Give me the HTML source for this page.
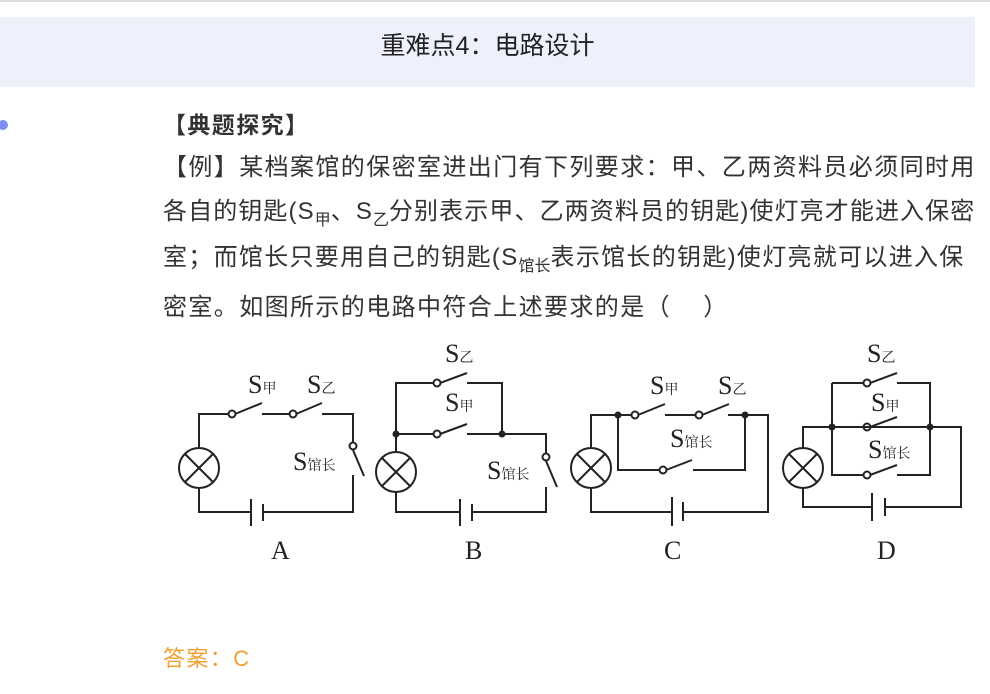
<!DOCTYPE html>
<html><head><meta charset="utf-8"><style>
body{margin:0;width:990px;height:694px;background:#fff;position:relative;overflow:hidden;font-family:"Liberation Sans","Noto Sans CJK SC",sans-serif;color:#333}
.hd{position:absolute;left:0;top:17px;width:975px;height:70px;background:#eef0fc}
.t{position:absolute;left:0;width:975px;top:26px;text-align:center;font-size:25px;color:#222}
.l{position:absolute;left:163px;font-size:24px;letter-spacing:1.4px;white-space:nowrap;line-height:30px}
sub{font-size:16px;vertical-align:-6px;letter-spacing:0}
svg{position:absolute;left:0;top:0}
</style></head><body>
<div style="position:absolute;left:0;top:0;width:990px;height:2px;background:#ddd"></div>
<div class="hd"></div>
<div class="t">重难点4：电路设计</div>
<div style="position:absolute;left:-2px;top:120px;width:10px;height:10px;border-radius:50%;background:#7b8ff0"></div>
<div class="l" style="top:110px;font-weight:bold;font-size:23px">【典题探究】</div>
<div class="l" style="top:153px">【例】某档案馆的保密室进出门有下列要求：甲、乙两资料员必须同时用</div>
<div class="l" style="top:197px;letter-spacing:1.1px">各自的钥匙(S<sub>甲</sub>、S<sub>乙</sub>分别表示甲、乙两资料员的钥匙)使灯亮才能进入保密</div>
<div class="l" style="top:243px;letter-spacing:1.3px">室；而馆长只要用自己的钥匙(S<sub>馆长</sub>表示馆长的钥匙)使灯亮就可以进入保</div>
<div class="l" style="top:293px">密室。如图所示的电路中符合上述要求的是（&nbsp;&nbsp;&nbsp;&nbsp;）</div>
<div class="l" style="top:644px;color:#f0a030;font-size:22px">答案：C</div>
<svg width="990" height="694" font-family="Liberation Serif,Noto Serif CJK SC,serif" fill="none" stroke="#222" stroke-width="2">
<g id="A">
<path d="M199 448V414H229M235 414L262 403M262 414H290M296 414L322 403M322 414H353V442M353 450L364 476M353 475V512H263M251 512H199V488"/>
<circle cx="232" cy="414" r="3.5"/><circle cx="293" cy="414" r="3.5"/><circle cx="353" cy="446" r="3.5"/>
<circle cx="199" cy="468" r="20"/><path d="M185 454L213 482M213 454L185 482"/>
<path d="M251 499V526M263 504V521"/>
</g>
<g id="B">
<path d="M396 452V383H433M440 383L467 373M467 383H502V434M396 434H433M440 434L467 424M467 434H546V453M546 461L557 487M546 487V512H472M460 512H396V492"/>
<circle cx="437" cy="383" r="3.5"/><circle cx="437" cy="434" r="3.5"/><circle cx="546" cy="457" r="3.5"/>
<circle cx="396" cy="472" r="20"/><path d="M382 458L410 486M410 458L382 486"/>
<path d="M460 499V526M472 504V521"/>
</g>
<g id="C">
<path d="M591 448V415H631M638 415L665 404M665 415H695M702 415L729 404M728 415H768V512H683M672 512H591V488M618 415V470H659M666 470L692 460M693 470H745V415"/>
<circle cx="635" cy="415" r="3.5"/><circle cx="699" cy="415" r="3.5"/><circle cx="663" cy="470" r="3.5"/>
<circle cx="591" cy="468" r="20"/><path d="M577 454L605 482M605 454L577 482"/>
<path d="M672 497V526M683 502V521"/>
</g>
<g id="D">
<path d="M803 448V427H961V507H885M872 507H803V488M832 383V475H863M870 475L897 465M897 475H930V383H897M897 373L870 383M863 383H832M832 427H863M870 427L897 417"/>
<circle cx="867" cy="383" r="3.5"/><circle cx="867" cy="427" r="3.5"/><circle cx="867" cy="475" r="3.5"/>
<circle cx="803" cy="468" r="20"/><path d="M789 454L817 482M817 454L789 482"/>
<path d="M872 493V521M885 498V516"/>
</g>
<g fill="#222" stroke="none">
<circle cx="396" cy="434" r="3.5"/><circle cx="502" cy="434" r="3.5"/>
<circle cx="618" cy="415" r="3.5"/><circle cx="745" cy="415" r="3.5"/>
<circle cx="832" cy="427" r="3.5"/><circle cx="930" cy="427" r="3.5"/>
<g font-size="26">
<text x="248" y="393">S<tspan font-size="14">甲</tspan></text>
<text x="307" y="393">S<tspan font-size="14">乙</tspan></text>
<text x="293" y="470">S<tspan font-size="14">馆长</tspan></text>
<text x="445" y="362">S<tspan font-size="14">乙</tspan></text>
<text x="445" y="411">S<tspan font-size="14">甲</tspan></text>
<text x="487" y="479">S<tspan font-size="14">馆长</tspan></text>
<text x="650" y="394">S<tspan font-size="14">甲</tspan></text>
<text x="718" y="394">S<tspan font-size="14">乙</tspan></text>
<text x="670" y="447">S<tspan font-size="14">馆长</tspan></text>
<text x="867" y="362">S<tspan font-size="14">乙</tspan></text>
<text x="871" y="411">S<tspan font-size="14">甲</tspan></text>
<text x="868" y="458">S<tspan font-size="14">馆长</tspan></text>
<text x="271" y="559">A</text><text x="465" y="559">B</text><text x="664" y="559">C</text><text x="877" y="559">D</text>
</g></g>
</svg>
</body></html>
